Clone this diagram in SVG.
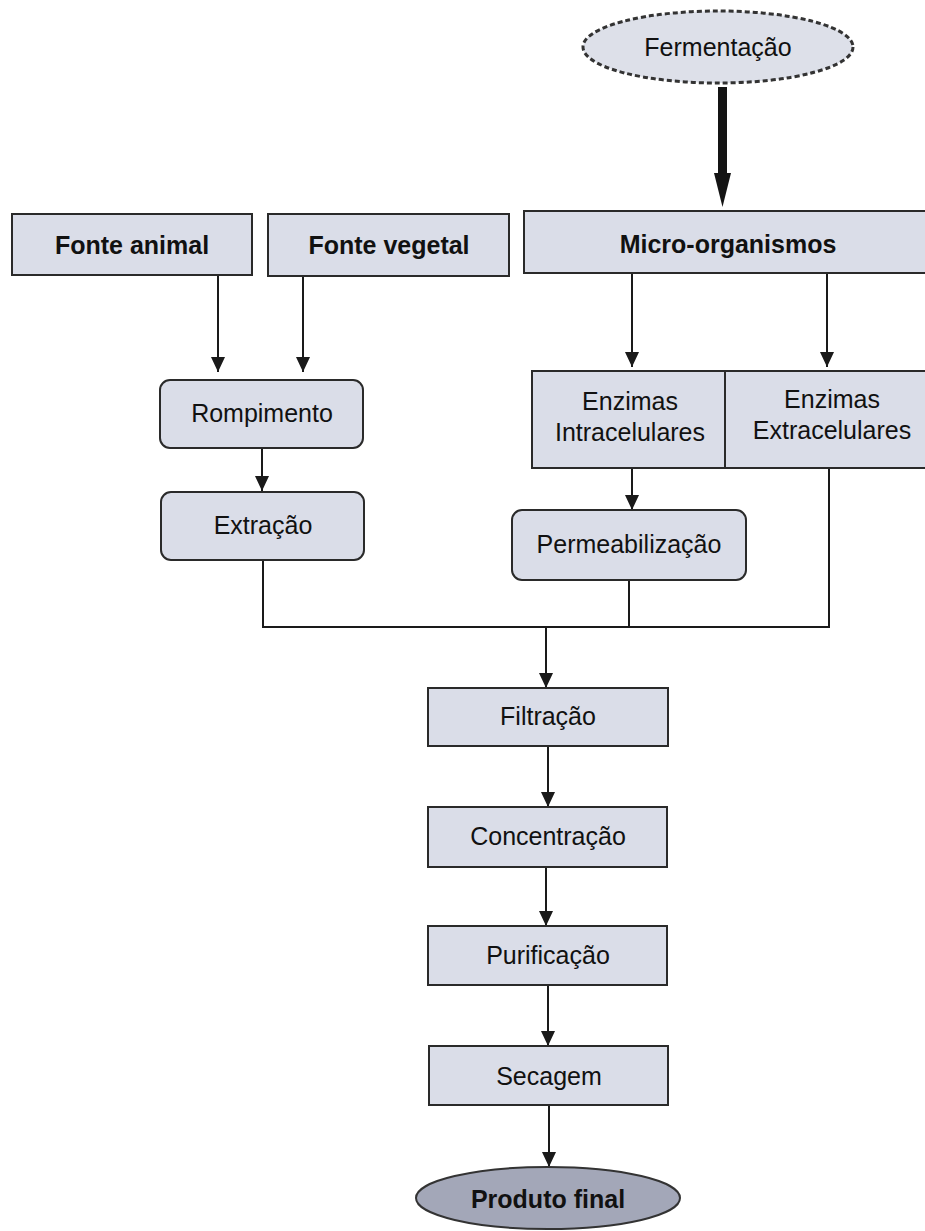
<svg xmlns="http://www.w3.org/2000/svg" width="925" height="1231" viewBox="0 0 925 1231">
<style>
.box{fill:#dadde8;stroke:#2a2a2a;stroke-width:2}
.t{font-family:"Liberation Sans",Arial,sans-serif;font-size:25px;fill:#111111;text-anchor:middle}
.b{font-weight:bold}
.ln{fill:none;stroke:#1a1a1a;stroke-width:2}
</style>
<defs>
<marker id="ah" markerUnits="userSpaceOnUse" markerWidth="16" markerHeight="16" refX="15" refY="7" orient="auto">
<path d="M0,0 L15,7 L0,14 z" fill="#1a1a1a"/>
</marker>
</defs>
<rect width="925" height="1231" fill="#ffffff"/>

<g id="connectors">
<polygon points="718,87 727,87 727,173 731,173 722.5,207 714,173 718,173" fill="#141414"/>
<line class="ln" x1="218" y1="276" x2="218" y2="372" marker-end="url(#ah)"/>
<line class="ln" x1="303" y1="276" x2="303" y2="372" marker-end="url(#ah)"/>
<line class="ln" x1="262" y1="448" x2="262" y2="491" marker-end="url(#ah)"/>
<line class="ln" x1="632" y1="274" x2="632" y2="367" marker-end="url(#ah)"/>
<line class="ln" x1="827" y1="273" x2="827" y2="367" marker-end="url(#ah)"/>
<line class="ln" x1="632" y1="468" x2="632" y2="510" marker-end="url(#ah)"/>
<polyline class="ln" points="263,560 263,627 829,627 829,468"/>
<line class="ln" x1="629" y1="580" x2="629" y2="627"/>
<line class="ln" x1="546" y1="627" x2="546" y2="688" marker-end="url(#ah)"/>
<line class="ln" x1="548" y1="746" x2="548" y2="807" marker-end="url(#ah)"/>
<line class="ln" x1="546" y1="867" x2="546" y2="926" marker-end="url(#ah)"/>
<line class="ln" x1="548" y1="985" x2="548" y2="1046" marker-end="url(#ah)"/>
<line class="ln" x1="549" y1="1105" x2="549" y2="1167" marker-end="url(#ah)"/>
</g>

<g id="fermentacao">
<ellipse cx="718" cy="47" rx="135" ry="36" fill="#dde0e9" stroke="#333" stroke-width="3" stroke-dasharray="5,3"/>
<text class="t" x="718" y="56">Fermentação</text>
</g>

<g id="fonte-animal">
<rect class="box" x="12" y="214" width="240" height="61"/>
<text class="t b" x="132" y="254">Fonte animal</text>
</g>

<g id="fonte-vegetal">
<rect class="box" x="268" y="214" width="241" height="62"/>
<text class="t b" x="389" y="254">Fonte vegetal</text>
</g>

<g id="micro-organismos">
<rect class="box" x="524" y="211" width="410" height="62"/>
<text class="t b" x="728" y="253">Micro-organismos</text>
</g>

<g id="rompimento">
<rect class="box" x="160" y="380" width="203" height="68" rx="10"/>
<text class="t" x="262" y="422">Rompimento</text>
</g>

<g id="extracao">
<rect class="box" x="161" y="492" width="203" height="68" rx="10"/>
<text class="t" x="263" y="534">Extração</text>
</g>

<g id="enzimas-intracelulares">
<rect class="box" x="532" y="371" width="193" height="97"/>
<text class="t" x="630" y="410">Enzimas</text>
<text class="t" x="630" y="441">Intracelulares</text>
</g>

<g id="enzimas-extracelulares">
<rect class="box" x="725" y="371" width="210" height="97"/>
<text class="t" x="832" y="408">Enzimas</text>
<text class="t" x="832" y="439">Extracelulares</text>
</g>

<g id="permeabilizacao">
<rect class="box" x="512" y="510" width="234" height="70" rx="10"/>
<text class="t" x="629" y="553">Permeabilização</text>
</g>

<g id="filtracao">
<rect class="box" x="428" y="688" width="240" height="58"/>
<text class="t" x="548" y="725">Filtração</text>
</g>

<g id="concentracao">
<rect class="box" x="428" y="807" width="239" height="60"/>
<text class="t" x="548" y="845">Concentração</text>
</g>

<g id="purificacao">
<rect class="box" x="428" y="926" width="239" height="59"/>
<text class="t" x="548" y="964">Purificação</text>
</g>

<g id="secagem">
<rect class="box" x="429" y="1046" width="239" height="59"/>
<text class="t" x="549" y="1085">Secagem</text>
</g>

<g id="produto-final">
<ellipse cx="548" cy="1198" rx="132" ry="31" fill="#a3a7b8" stroke="#333" stroke-width="2"/>
<text class="t b" x="548" y="1208">Produto final</text>
</g>
</svg>
